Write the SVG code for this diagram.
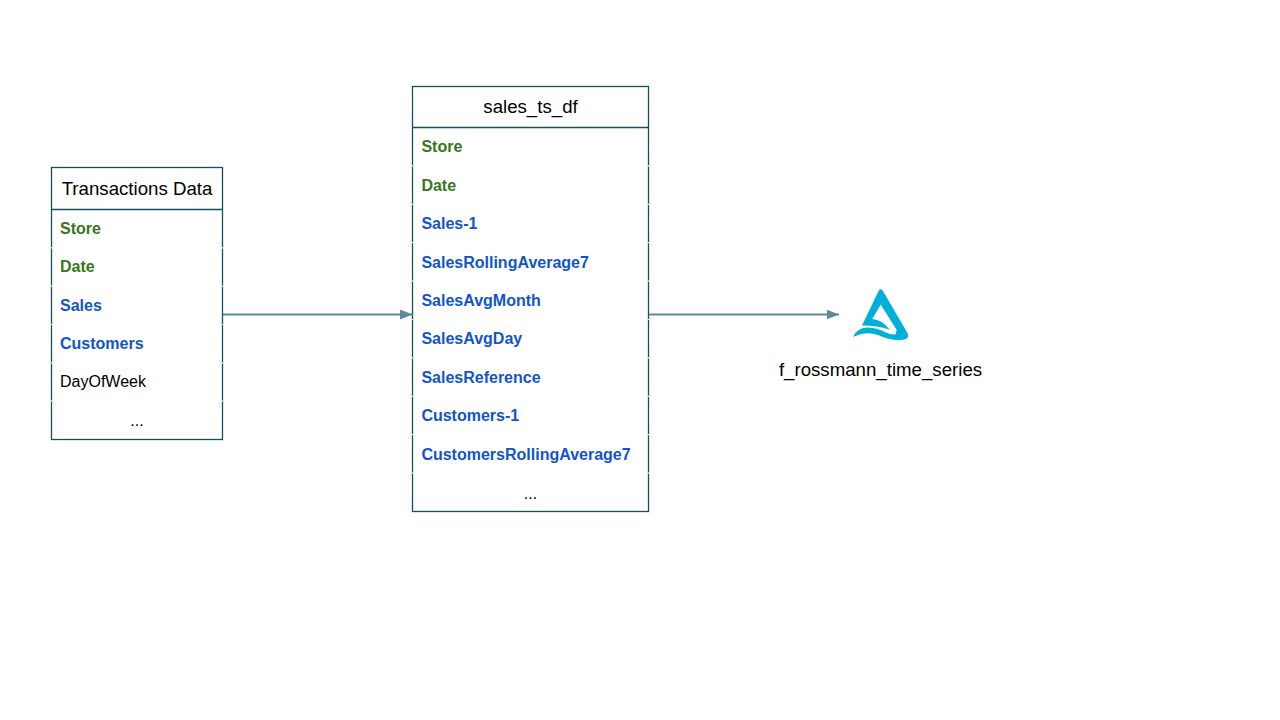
<svg xmlns="http://www.w3.org/2000/svg" width="1280" height="720" viewBox="0 0 1280 720">
<style>
text{font-family:"Liberation Sans",Arial,sans-serif;fill:#000}
.h{font-size:18.67px;text-anchor:middle}
.r{font-size:16px}
.b{font-weight:bold}
.g{fill:#38761d}
.u{fill:#1155cc}
.c{text-anchor:middle}
.box{fill:#fff;stroke:#134f5c;stroke-width:1.3}
.rule{stroke:#134f5c;stroke-width:1.3;fill:none}
.tick{stroke:#fff;stroke-width:1.2}
.conn{stroke:#5f8a9a;stroke-width:2;fill:none;marker-end:url(#a)}
</style>
<defs>
<marker id="a" markerUnits="userSpaceOnUse" markerWidth="14" markerHeight="12" refX="12.5" refY="5" orient="auto"><path d="M0 0L12.500 5L0 10Z" fill="#5f8a9a"/></marker>
</defs>
<rect width="1280" height="720" fill="#fff"/>
<g id="transactions-data">
<rect class="box" x="51.5" y="167.5" width="171" height="272"/>
<path class="rule" d="M51.5 209.5H222.5"/>
<path class="tick" d="M51 247.8h1M222 247.8h1M51 286.2h1M222 286.2h1M51 324.5h1M222 324.5h1M51 362.8h1M222 362.8h1M51 401.2h1M222 401.2h1"/>
<text class="h" x="137" y="195">Transactions Data</text>
<text class="r b g" x="60" y="234">Store</text>
<text class="r b g" x="60" y="272">Date</text>
<text class="r b u" x="60" y="311">Sales</text>
<text class="r b u" x="60" y="349">Customers</text>
<text class="r" x="60" y="387">DayOfWeek</text>
<text class="r c" x="137" y="426">...</text>
</g>
<g id="sales-ts-df">
<rect class="box" x="412.5" y="86.5" width="236" height="425"/>
<path class="rule" d="M412.5 127.5H648.5"/>
<path class="tick" d="M412 165.9h1M648 165.9h1M412 204.3h1M648 204.3h1M412 242.7h1M648 242.7h1M412 281.1h1M648 281.1h1M412 319.5h1M648 319.5h1M412 357.9h1M648 357.9h1M412 396.3h1M648 396.3h1M412 434.7h1M648 434.7h1M412 473.1h1M648 473.1h1"/>
<text class="h" x="530.5" y="113">sales_ts_df</text>
<text class="r b g" x="421.4" y="152">Store</text>
<text class="r b g" x="421.4" y="191">Date</text>
<text class="r b u" x="421.4" y="229">Sales-1</text>
<text class="r b u" x="421.4" y="268">SalesRollingAverage7</text>
<text class="r b u" x="421.4" y="306">SalesAvgMonth</text>
<text class="r b u" x="421.4" y="344">SalesAvgDay</text>
<text class="r b u" x="421.4" y="383">SalesReference</text>
<text class="r b u" x="421.4" y="421">Customers-1</text>
<text class="r b u" x="421.4" y="460">CustomersRollingAverage7</text>
<text class="r c" x="530.5" y="499">...</text>
</g>
<g id="connectors">
<path class="conn" d="M223 314.5H412.500"/>
<path class="conn" d="M649 314.500H839"/>
</g>
<g id="f-rossmann-time-series">
<path fill="#00b0d8" d="M878.800 290.500Q880.700 287.800 882.600 290.500L907.800 333.500Q909 337 906 339Q902 340.500 896 340Q888 339.500 878 335Q866 330.500 853 337Q857 327.500 868 327.500Q878 328 886 332.500Q891 335 895.500 334.500L896.700 330L880.700 304.500L872.300 319Q882 319.500 890 330Q880 325.500 862 325.500Z"/>
<text class="h" x="880.500" y="376">f_rossmann_time_series</text>
</g>
</svg>
